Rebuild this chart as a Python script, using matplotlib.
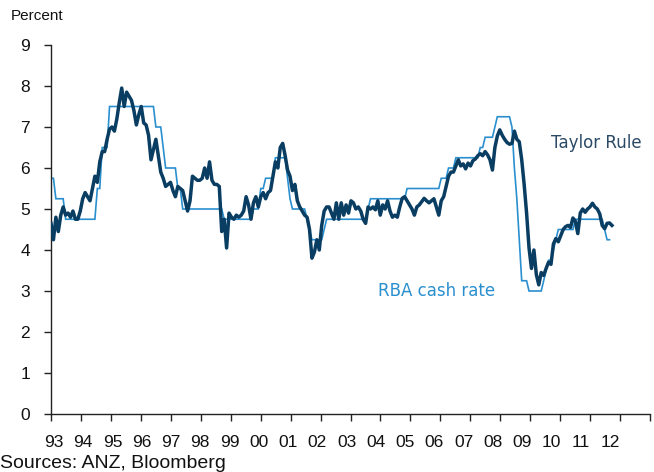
import numpy as np
import matplotlib
matplotlib.use("Agg")
import matplotlib.pyplot as plt

# ---------------- data (monthly, Jan 1993 onwards) ----------------
taylor_rule = (
    [4.65, 4.25, 4.8, 4.45, 4.85, 5.05, 4.85, 4.9, 4.8, 4.95, 4.75, 4.75] +      # 1993
    [4.95, 5.25, 5.4, 5.3, 5.2, 5.5, 5.8, 5.65, 6.15, 6.4, 6.4, 6.7] +          # 1994
    [6.95, 7.0, 6.9, 7.2, 7.6, 7.95, 7.5, 7.85, 7.75, 7.65, 7.4, 7.05] +        # 1995
    [7.3, 7.5, 7.1, 7.05, 6.8, 6.2, 6.45, 6.7, 6.3, 5.9, 5.75, 5.55] +          # 1996
    [5.6, 5.65, 5.45, 5.3, 5.55, 5.5, 5.45, 5.2, 4.95, 5.2, 5.8, 5.75] +        # 1997
    [5.7, 5.7, 5.75, 6.0, 5.75, 6.15, 5.7, 5.6, 5.6, 5.55, 4.45, 4.75] +        # 1998
    [4.05, 4.9, 4.8, 4.75, 4.85, 4.8, 4.85, 4.95, 5.3, 5.1, 4.75, 5.15] +       # 1999
    [5.3, 5.05, 5.3, 5.4, 5.25, 5.4, 5.45, 5.8, 6.15, 6.0, 6.5, 6.6] +          # 2000
    [6.3, 5.95, 5.8, 5.45, 5.6, 5.2, 5.05, 4.95, 4.85, 4.8, 4.5, 3.8] +         # 2001
    [3.95, 4.25, 4.0, 4.6, 4.95, 5.05, 5.05, 4.9, 4.75, 5.15, 4.75, 5.15] +     # 2002
    [4.85, 5.1, 4.9, 5.2, 5.15, 5.0, 5.05, 4.95, 4.75, 4.65, 5.05, 5.0] +       # 2003
    [5.05, 4.98, 5.2, 4.85, 5.1, 5.0, 5.2, 4.95, 4.8, 4.85, 4.8, 5.05] +        # 2004
    [5.26, 5.3, 5.2, 5.1, 5.0, 4.85, 5.05, 5.1, 5.18, 5.26, 5.2, 5.15] +        # 2005
    [5.2, 5.25, 5.05, 4.85, 5.2, 5.3, 5.55, 5.8, 5.9, 5.9, 6.05, 6.2] +         # 2006
    [6.05, 6.1, 5.98, 6.12, 6.05, 6.18, 6.22, 6.3, 6.35, 6.3, 6.4, 6.32] +      # 2007
    [6.2, 5.95, 6.5, 6.78, 6.93, 6.8, 6.7, 6.62, 6.58, 6.6, 6.9, 6.7] +         # 2008
    [6.64, 6.2, 5.6, 4.9, 4.05, 3.55, 4.0, 3.4, 3.15, 3.45, 3.38, 3.55] +       # 2009
    [3.7, 3.65, 4.15, 4.28, 4.2, 4.35, 4.5, 4.57, 4.6, 4.55, 4.78, 4.7] +       # 2010
    [4.4, 4.9, 5.0, 4.92, 5.0, 5.05, 5.14, 5.05, 5.0, 4.88, 4.6, 4.52] +        # 2011
    [4.65, 4.66, 4.6]                                                          # 2012
)

rba_cash_rate = (
    [5.75, 5.75, 5.25, 5.25, 5.25, 5.25, 4.75, 4.75, 4.75, 4.75, 4.75, 4.75] +  # 1993
    [4.75, 4.75, 4.75, 4.75, 4.75, 4.75, 4.75, 5.5, 5.5, 6.5, 6.5, 6.5] +       # 1994
    [7.5, 7.5, 7.5, 7.5, 7.5, 7.5, 7.5, 7.5, 7.5, 7.5, 7.5, 7.5] +              # 1995
    [7.5, 7.5, 7.5, 7.5, 7.5, 7.5, 7.5, 7.0, 7.0, 7.0, 6.5, 6.0] +              # 1996
    [6.0, 6.0, 6.0, 6.0, 5.5, 5.5, 5.0, 5.0, 5.0, 5.0, 5.0, 5.0] +              # 1997
    [5.0, 5.0, 5.0, 5.0, 5.0, 5.0, 5.0, 5.0, 5.0, 5.0, 5.0, 4.75] +             # 1998
    [4.75, 4.75, 4.75, 4.75, 4.75, 4.75, 4.75, 4.75, 4.75, 4.75, 4.75, 5.0] +   # 1999
    [5.0, 5.0, 5.5, 5.5, 5.75, 5.75, 5.75, 5.75, 6.25, 6.25, 6.25, 6.25] +      # 2000
    [6.25, 5.75, 5.25, 5.0, 5.0, 5.0, 5.0, 5.0, 5.0, 4.75, 4.5, 4.25] +         # 2001
    [4.25, 4.25, 4.25, 4.25, 4.5, 4.75, 4.75, 4.75, 4.75, 4.75, 4.75, 4.75] +   # 2002
    [4.75, 4.75, 4.75, 4.75, 4.75, 4.75, 4.75, 4.75, 4.75, 4.75, 5.0, 5.25] +   # 2003
    [5.25, 5.25, 5.25, 5.25, 5.25, 5.25, 5.25, 5.25, 5.25, 5.25, 5.25, 5.25] +  # 2004
    [5.25, 5.25, 5.5, 5.5, 5.5, 5.5, 5.5, 5.5, 5.5, 5.5, 5.5, 5.5] +            # 2005
    [5.5, 5.5, 5.5, 5.5, 5.75, 5.75, 5.75, 6.0, 6.0, 6.0, 6.25, 6.25] +         # 2006
    [6.25, 6.25, 6.25, 6.25, 6.25, 6.25, 6.25, 6.25, 6.5, 6.5, 6.75, 6.75] +    # 2007
    [6.75, 6.75, 7.0, 7.25, 7.25, 7.25, 7.25, 7.25, 7.25, 7.0, 6.0, 5.25] +     # 2008
    [4.25, 3.25, 3.25, 3.25, 3.0, 3.0, 3.0, 3.0, 3.0, 3.0, 3.25, 3.5] +         # 2009
    [3.75, 3.75, 4.0, 4.25, 4.5, 4.5, 4.5, 4.5, 4.5, 4.5, 4.5, 4.75] +          # 2010
    [4.75, 4.75, 4.75, 4.75, 4.75, 4.75, 4.75, 4.75, 4.75, 4.75, 4.75, 4.5] +   # 2011
    [4.25, 4.25]                                                               # 2012
)

year_labels = ["93", "94", "95", "96", "97", "98", "99", "00", "01", "02",
               "03", "04", "05", "06", "07", "08", "09", "10", "11", "12"]
y_ticks = [0, 1, 2, 3, 4, 5, 6, 7, 8, 9]

# ---------------- figure ----------------
TAYLOR_C = "#0a3d62"
RBA_C = "#2a8fcf"
FONT = "Liberation Sans"

fig = plt.figure(figsize=(6.54, 4.72), dpi=100)
ax = fig.add_axes([51 / 654, 58 / 472, 599 / 654, 369 / 472])

x_t = np.arange(len(taylor_rule))
x_r = np.arange(len(rba_cash_rate))
ax.plot(x_r, rba_cash_rate, color=RBA_C, lw=1.2, solid_joinstyle="miter", zorder=2)
ax.plot(x_t, taylor_rule, color=TAYLOR_C, lw=2.5, solid_joinstyle="round", zorder=3)

xmax = 245.6
ax.set_xlim(0, xmax)
ax.set_ylim(0, 9)

# tick marks (equally spaced along the category axis)
ax.set_xticks(np.linspace(0, xmax, 21))
ax.set_xticklabels([])
ax.tick_params(axis="x", which="major", length=5, width=1, color="#222222", direction="out")
# year labels
ax.set_xticks([12 * i + 1.2 for i in range(len(year_labels))], minor=True)
ax.set_xticklabels(year_labels, minor=True, fontsize=12.5, family=FONT, color="#111111")
ax.tick_params(axis="x", which="minor", length=0, pad=15)

ax.set_yticks(y_ticks)
ax.set_yticklabels([str(v) for v in y_ticks], fontsize=12.5, family=FONT, color="#111111")
ax.tick_params(axis="y", length=5, width=1, color="#222222", pad=10, direction="out")

for s in ["top", "right"]:
    ax.spines[s].set_visible(False)
for s in ["left", "bottom"]:
    ax.spines[s].set_color("#222222")
    ax.spines[s].set_linewidth(1)

ax.text(551 / 654, 1 - 143 / 472, "Taylor Rule", transform=fig.transFigure,
        fontsize=12, family="DejaVu Sans", color="#2b4a66", ha="left", va="center")
ax.text(378 / 654, 1 - 291 / 472, "RBA cash rate", transform=fig.transFigure,
        fontsize=12, family="DejaVu Sans", color=RBA_C, ha="left", va="center")

fig.text(11 / 654, 1 - 16 / 472, "Percent", fontsize=11, family=FONT,
         color="#111111", ha="left", va="center")
fig.text(0 / 654, 1 - 464 / 472, "Sources: ANZ, Bloomberg", fontsize=14, family=FONT,
         color="#111111", ha="left", va="center")

fig.savefig("out.png", dpi=100)
